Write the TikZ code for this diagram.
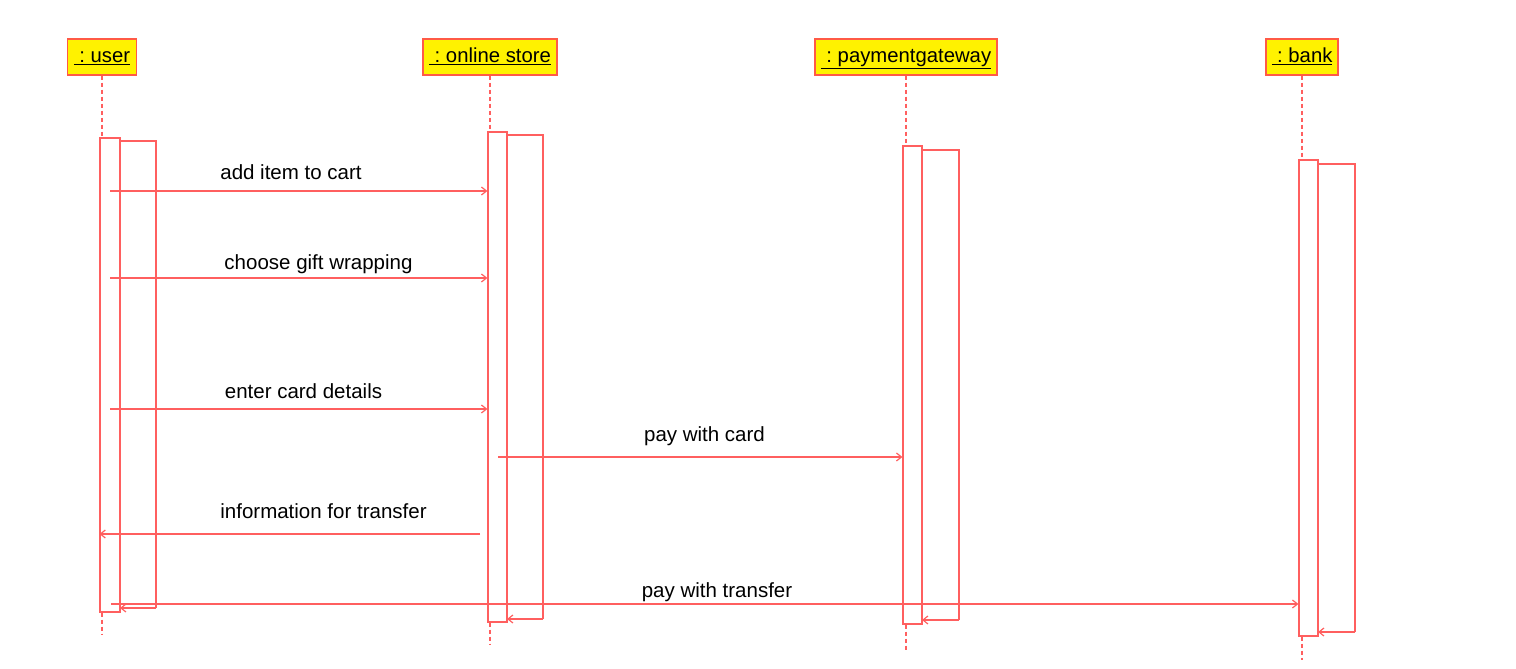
\documentclass[tikz,border=0pt]{standalone}
\usepackage{fontspec}
\setmainfont{Liberation Sans}
\usetikzlibrary{arrows.meta}
\definecolor{ln}{RGB}{255,95,95}
\definecolor{hdrborder}{RGB}{255,90,70}
\newcommand{\hdrtext}[1]{\underline{\ :\ #1}}
\tikzset{
  x=1pt, y=-1pt,
  lnstyle/.style={draw=ln, line width=1.2pt},
  hdr/.style={draw=hdrborder, line width=1.2pt, fill=yellow, minimum height=36pt, inner sep=0pt, text height=15pt, text depth=3pt, font=\fontsize{20.3}{23}\selectfont},
  actbox/.style={lnstyle, minimum width=19pt, inner sep=0pt},
  lifeline/.style={lnstyle, dash pattern=on 4pt off 3pt},
  msg/.style={lnstyle, -{Straight Barb[length=5pt,width=8pt]}},
  lbl/.style={anchor=base, font=\fontsize{20.5}{23}\selectfont, inner sep=0pt}
}
\begin{document}
\begin{tikzpicture}
\useasboundingbox (0,0) rectangle (1516,669);
% headers
\node[hdr, minimum width=69pt] (uh) at (102,57) {\hdrtext{user}};
\node[hdr, minimum width=134pt] (sh) at (490,57) {\hdrtext{online store}};
\node[hdr, minimum width=182pt] (ph) at (906,57) {\hdrtext{paymentgateway}};
\node[hdr, minimum width=72pt] (bh) at (1302,57) {\hdrtext{bank}};
% activation boxes
\node[actbox, minimum width=20pt, minimum height=474pt] (ua) at (110,375) {};
\node[actbox, minimum height=490pt] (sa) at (497.5,377) {};
\node[actbox, minimum height=478pt] (pa) at (912.5,385) {};
\node[actbox, minimum height=476pt] (ba) at (1308.5,398) {};
% lifelines
\coordinate (uend) at (102,635);
\coordinate (send) at (490,645);
\coordinate (pend) at (906,650);
\coordinate (bend) at (1302,660);
\draw[lifeline] (uh.south) -- (uh.south |- ua.north);
\draw[lifeline] (uh.south |- ua.south) -- (uend);
\draw[lifeline] (sh.south) -- (sh.south |- sa.north);
\draw[lifeline] (sh.south |- sa.south) -- (send);
\draw[lifeline] (ph.south) -- (ph.south |- pa.north);
\draw[lifeline] (ph.south |- pa.south) -- (pend);
\draw[lifeline] (bh.south) -- (bh.south |- ba.north);
\draw[lifeline] (bh.south |- ba.south) -- (bend);
% self frames
\draw[lnstyle] (120,608) -- (120,141) -- (156,141) -- (156,608);
\draw[msg] (156,608) -- (120,608);
\draw[lnstyle] (507,619) -- (507,135) -- (543,135) -- (543,619);
\draw[msg] (543,619) -- (507,619);
\draw[lnstyle] (922,620) -- (922,150) -- (959,150) -- (959,620);
\draw[msg] (959,620) -- (922,620);
\draw[lnstyle] (1318,632) -- (1318,164) -- (1355,164) -- (1355,632);
\draw[msg] (1355,632) -- (1318,632);
% messages
\draw[msg] (ua |- 0,191) -- (sa.west |- 0,191);
\node[lbl] (m1) at (291,179) {add item to cart};
\draw[msg] (ua |- 0,278) -- (sa.west |- 0,278);
\node[lbl] (m2) at (318.5,269) {choose gift wrapping};
\draw[msg] (ua |- 0,409) -- (sa.west |- 0,409);
\node[lbl] (m3) at (303.5,398) {enter card details};
\draw[msg] (498,457) -- (pa.west |- 0,457);
\node[lbl] (m4) at (704.5,441) {pay with card};
\draw[msg] (480,534) -- (ua.west |- 0,534);
\node[lbl] (m5) at (323.5,518) {information for transfer};
\draw[msg] (111,604) -- (ba.west |- 0,604);
\node[lbl] (m6) at (717,597) {pay with transfer};
\end{tikzpicture}
\end{document}
